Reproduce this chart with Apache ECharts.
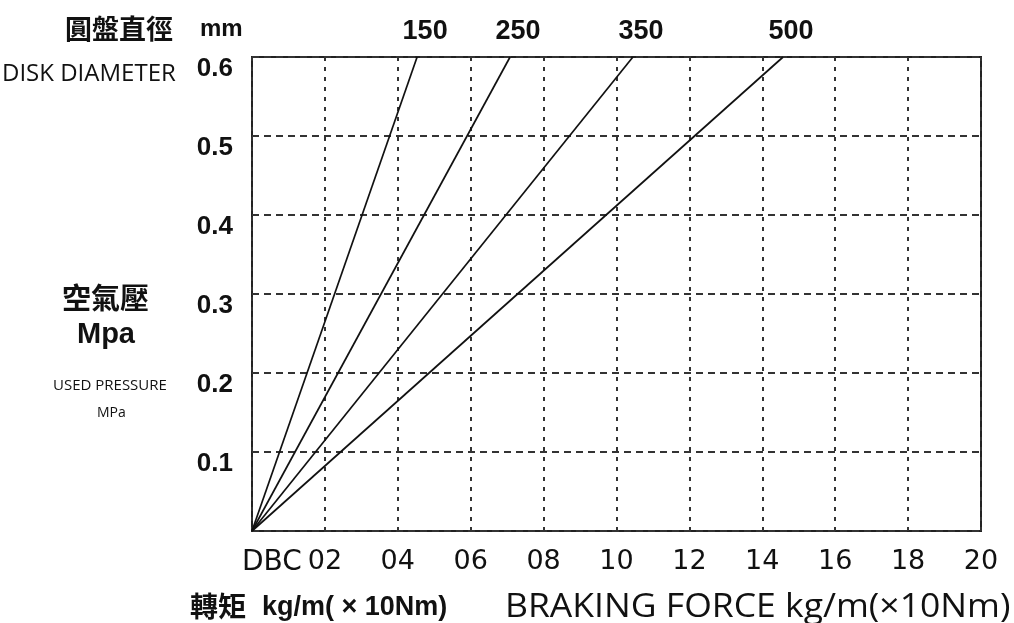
<!DOCTYPE html>
<html>
<head>
<meta charset="utf-8">
<script src="https://cdn.jsdelivr.net/npm/echarts@6/dist/echarts.min.js"></script>
<style>html,body{margin:0;padding:0;background:#fff;}#main{width:1014px;height:623px;}</style>
</head>
<body>
<div id="main"></div>
<script>
// Disk diameters (mm) and the braking force reached at 0.6 MPa for each
var diameters = [150, 250, 350, 500];
var pressures = [0, 0.6];
var forcesAtMax = [
  [0, 4.53],
  [0, 7.08],
  [0, 10.45],
  [0, 14.57]
];
var xTicks = { 2: '02', 4: '04', 6: '06', 8: '08', 10: '10', 12: '12', 14: '14', 16: '16', 18: '18', 20: '20' };
var yTicks = { 1: '0.1', 2: '0.2', 3: '0.3', 4: '0.4', 5: '0.5', 6: '0.6' };

var chart = echarts.init(document.getElementById('main'));

var LS = 'Liberation Sans, Arial, sans-serif';
var DV = 'DejaVu Sans, sans-serif';
var OS = 'Open Sans, sans-serif';
var CJK = 'Noto Sans CJK TC, sans-serif';

var series = diameters.map(function (d, i) {
  var pts = forcesAtMax[i].map(function (f, j) { return [f, pressures[j]]; });
  return {
    name: String(d),
    type: 'line',
    data: pts,
    symbol: 'none',
    silent: true,
    lineStyle: { color: '#111', width: 1.7 },
    markPoint: {
      symbol: 'circle', symbolSize: 0,
      data: [{ coord: pts[pts.length - 1], value: d }],
      label: {
        show: true, position: 'top', distance: 8,
        offset: [8, -4],
        formatter: String(d),
        color: '#111', fontSize: 27, fontWeight: 'bold',
        fontFamily: LS
      }
    }
  };
});

chart.setOption({
  animation: false,
  backgroundColor: '#fff',
  grid: { left: 252, right: 33, top: 57, bottom: 92, show: true, borderColor: '#222', borderWidth: 2, backgroundColor: 'transparent' },
  xAxis: {
    type: 'value', min: 0, max: 20, interval: 2,
    axisLine: { show: false },
    axisTick: { show: false },
    axisLabel: {
      margin: 17, color: '#111', fontSize: 27, fontFamily: DV,
      formatter: function (v) { return xTicks[Math.round(v)] || ''; }
    },
    splitLine: { show: true, lineStyle: { color: '#333', width: 2, type: [4, 6] } }
  },
  yAxis: {
    type: 'value', min: 0, max: 0.6, interval: 0.1,
    axisLine: { show: false },
    axisTick: { show: false },
    axisLabel: {
      margin: 19, color: '#111', fontSize: 26, fontWeight: 'bold', fontFamily: LS,
      verticalAlign: 'top', lineHeight: 24,
      formatter: function (v) { return yTicks[Math.round(v * 10)] || ''; }
    },
    splitLine: { show: true, lineStyle: { color: '#333', width: 2, type: [7, 5] } }
  },
  graphic: [
    { type: 'text', left: 65, top: 15, style: { text: '圓盤直徑', font: 'bold 27px ' + CJK, fill: '#111' } },
    { type: 'text', left: 200, top: 17, style: { text: 'mm', font: 'bold 24px ' + LS, fill: '#111' } },
    { type: 'text', left: 2, top: 62, style: { text: 'DISK DIAMETER', font: '24px ' + OS, fill: '#111' } },
    { type: 'text', left: 62, top: 283, style: { text: '空氣壓', font: 'bold 29px ' + CJK, fill: '#111' } },
    { type: 'text', left: 77, top: 320, style: { text: 'Mpa', font: 'bold 29px ' + LS, fill: '#111' } },
    { type: 'text', left: 53, top: 378, style: { text: 'USED PRESSURE', font: '15px ' + OS, fill: '#111' } },
    { type: 'text', left: 97, top: 406, style: { text: 'MPa', font: '14px ' + OS, fill: '#111' } },
    { type: 'text', left: 242, top: 549, style: { text: 'DBC', font: '28px ' + DV, fill: '#111' } },
    { type: 'text', left: 190, top: 592, style: { text: '轉矩', font: 'bold 28px ' + CJK, fill: '#111' } },
    { type: 'text', left: 262, top: 594, style: { text: 'kg/m( × 10Nm)', font: 'bold 27px ' + LS, fill: '#111' } },
    { type: 'text', left: 505, top: 592, scaleX: 1.11, style: { text: 'BRAKING FORCE kg/m(×10Nm)', font: '32px ' + OS, fill: '#111' } }
  ],
  series: series
});
</script>
</body>
</html>
